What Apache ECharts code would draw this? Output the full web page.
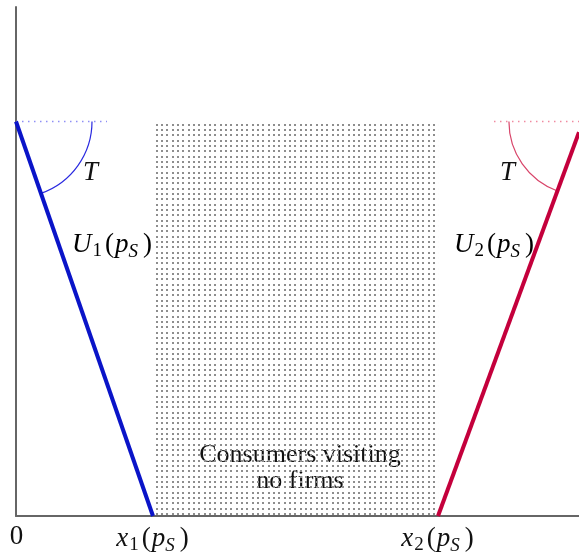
<!DOCTYPE html>
<html>
<head>
<meta charset="utf-8">
<script src="https://cdn.jsdelivr.net/npm/echarts@6/dist/echarts.min.js"></script>
<style>
html, body { margin: 0; padding: 0; background: #fff; }
#main { width: 579px; height: 555px; }
</style>
</head>
<body>
<div id="main"></div>
<script>
// utility level and the two indifference points
var uLevel = [0.775];
var cutPoints = [0.2433, 0.7496];        // x1(pS), x2(pS)
var line1 = [[0, 0.775], [0.2433, 0]];    // U1(pS)
var line2 = [[0.7496, 0], [1, 0.754]];    // U2(pS)
var refLine1 = [[0, 0.775], [0.1616, 0.775]];
var refLine2 = [[0.849, 0.775], [1, 0.775]];
var gapArea = [[0.2433, 0], [0.7496, 0.775]];
var tickValues = [0, 0.2433, 0.7496];

var serif = '"Liberation Serif", "DejaVu Serif", serif';
var rich = {
    n: { fontFamily: serif, fontSize: 27, color: '#111', padding: [0, 1, 0, 2] },
    i: { fontFamily: serif, fontSize: 27, fontStyle: 'italic', color: '#111' },
    s: { fontFamily: serif, fontSize: 19, color: '#111', padding: [13, 1, 0, 1] },
    is: { fontFamily: serif, fontSize: 19, fontStyle: 'italic', color: '#111', padding: [13, 3, 0, 0] }
};

// dotted fill
var pat = document.createElement('canvas');
pat.width = 16; pat.height = 16;
var pctx = pat.getContext('2d');
pctx.fillStyle = '#8e8e8e';
var dotPos = [1, 6, 12];
for (var a = 0; a < 3; a++) {
    for (var b = 0; b < 3; b++) {
        pctx.fillRect(dotPos[a], dotPos[b], 2, 2);
    }
}

var myChart = echarts.init(document.getElementById('main'));

function arcItem(color, lineA, side) {
    return function (params, api) {
        var p0 = api.coord(lineA[0]);
        var p1 = api.coord(lineA[1]);
        var yU = api.coord([0, uLevel[0]])[1];
        // where the line meets the utility level
        var t = (yU - p0[1]) / (p1[1] - p0[1]);
        var cx = p0[0] + t * (p1[0] - p0[0]);
        var other = (p0[1] > p1[1]) ? p0 : p1;
        var ang = Math.atan2(other[1] - yU, other[0] - cx);
        var start = side === 'left' ? 0 : ang;
        var end = side === 'left' ? ang : Math.PI;
        return {
            type: 'arc',
            shape: { cx: cx, cy: yU, r: side === 'left' ? 76 : 74, startAngle: start, endAngle: end, clockwise: true },
            style: { stroke: color, lineWidth: 1.2, fill: null }
        };
    };
}

var option = {
    animation: false,
    grid: { left: 16, right: 0, top: 7, bottom: 36 },
    xAxis: {
        type: 'value', min: 0, max: 1,
        splitLine: { show: false },
        axisTick: { show: false },
        axisLine: { lineStyle: { color: '#666', width: 2 } },
        axisLabel: {
            customValues: tickValues,
            margin: 7,
            rich: rich,
            formatter: function (v) {
                if (v === 0) return '{n|0}';
                if (Math.abs(v - cutPoints[0]) < 1e-6) return '{i|x}{s|1}{n|(}{i|p}{is|S}{n|)}';
                if (Math.abs(v - cutPoints[1]) < 1e-6) return '{i|x}{s|2}{n|(}{i|p}{is|S}{n|)}';
                return '';
            }
        }
    },
    yAxis: {
        type: 'value', min: 0, max: 1,
        splitLine: { show: false },
        axisTick: { show: false },
        axisLabel: { show: false },
        axisLine: { lineStyle: { color: '#666', width: 2 } }
    },
    graphic: [
        { type: 'text', x: 83, y: 159, style: { text: 'T', font: 'italic 27px ' + serif, fill: '#111' } },
        { type: 'text', x: 500, y: 159, style: { text: 'T', font: 'italic 27px ' + serif, fill: '#111' } },
        { type: 'text', x: 72, y: 229, style: { text: '{i|U}{s|1}{n|(}{i|p}{is|S}{n|)}', rich: rich } },
        { type: 'text', x: 454, y: 229, style: { text: '{i|U}{s|2}{n|(}{i|p}{is|S}{n|)}', rich: rich } },
        { type: 'text', x: 300, y: 442, style: { text: 'Consumers visiting\nno firms', font: '26px ' + serif, fill: '#111', align: 'center', lineHeight: 26 } }
    ],
    series: [
        {
            type: 'line', data: refLine1, symbol: 'none', silent: true,
            lineStyle: { color: '#8f8ff5', width: 1.5, type: [1.5, 4.5] }
        },
        {
            type: 'line', data: refLine2, symbol: 'none', silent: true,
            lineStyle: { color: '#f08aa0', width: 1.5, type: [1.5, 4.5] }
        },
        {
            type: 'line', data: line1, symbol: 'none', z: 5,
            lineStyle: { color: '#0a14c8', width: 4 },
            markArea: {
                silent: true,
                itemStyle: { color: { image: pat, repeat: 'repeat' }, opacity: 1 },
                data: [[{ coord: gapArea[0] }, { coord: gapArea[1] }]]
            }
        },
        {
            type: 'line', data: line2, symbol: 'none', z: 5,
            lineStyle: { color: '#c4003c', width: 4 }
        },
        {
            type: 'custom', data: [0], renderItem: arcItem('#2a2ae0', line1, 'left'), z: 4
        },
        {
            type: 'custom', data: [0], renderItem: arcItem('#d8456a', line2, 'right'), z: 4
        }
    ]
};
myChart.setOption(option);
window.addEventListener('resize', function () {
    myChart.resize();
});
</script>
</body>
</html>
